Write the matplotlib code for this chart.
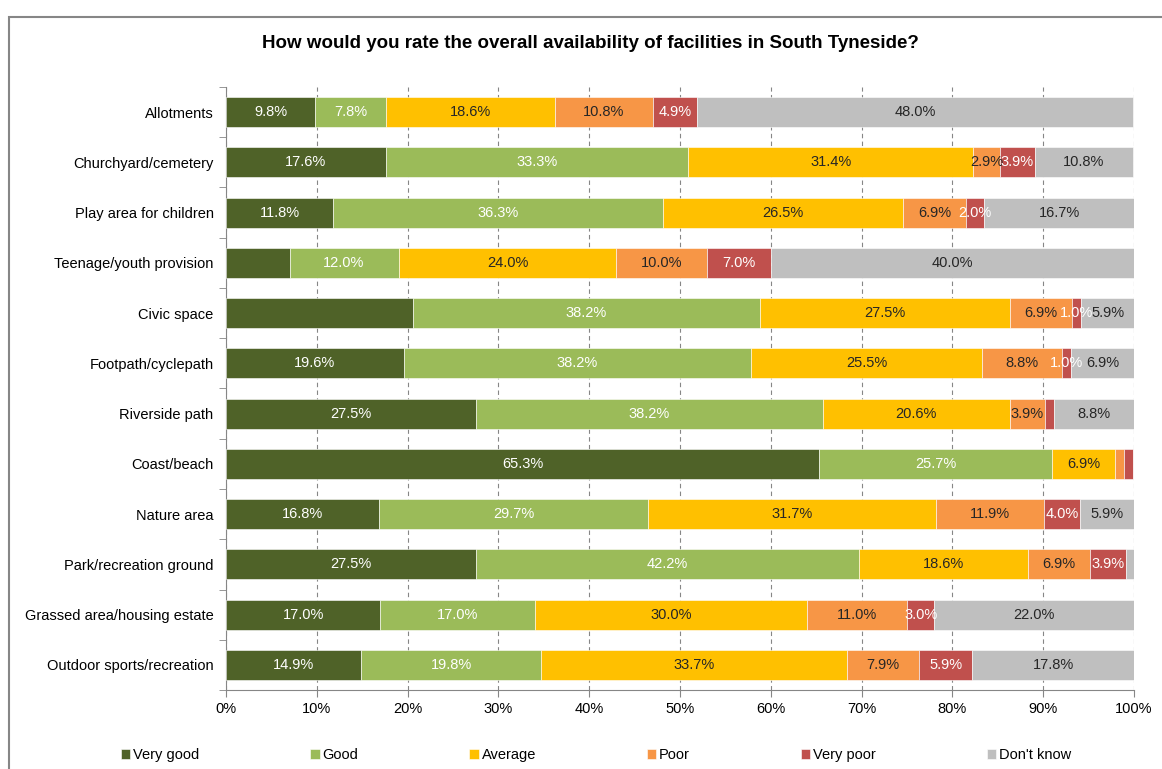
import numpy as np
import matplotlib
matplotlib.use('Agg')
import matplotlib.pyplot as plt
from matplotlib.patches import Rectangle

plt.rcParams['font.family'] = ['Liberation Sans', 'DejaVu Sans']

categories = ['Allotments', 'Churchyard/cemetery', 'Play area for children',
              'Teenage/youth provision', 'Civic space', 'Footpath/cyclepath',
              'Riverside path', 'Coast/beach', 'Nature area',
              'Park/recreation ground', 'Grassed area/housing estate',
              'Outdoor sports/recreation']

very_good = [9.8, 17.6, 11.8, 7.0, 20.6, 19.6, 27.5, 65.3, 16.8, 27.5, 17.0, 14.9]
good = [7.8, 33.3, 36.3, 12.0, 38.2, 38.2, 38.2, 25.7, 29.7, 42.2, 17.0, 19.8]
average = [18.6, 31.4, 26.5, 24.0, 27.5, 25.5, 20.6, 6.9, 31.7, 18.6, 30.0, 33.7]
poor = [10.8, 2.9, 6.9, 10.0, 6.9, 8.8, 3.9, 1.0, 11.9, 6.9, 11.0, 7.9]
very_poor = [4.9, 3.9, 2.0, 7.0, 1.0, 1.0, 1.0, 1.0, 4.0, 3.9, 3.0, 5.9]
dont_know = [48.0, 10.8, 16.7, 40.0, 5.9, 6.9, 8.8, 0.0, 5.9, 1.0, 22.0, 17.8]

series_names = ['Very good', 'Good', 'Average', 'Poor', 'Very poor', "Don't know"]
colors = ['#4F6228', '#9BBB59', '#FFC000', '#F79646', '#C0504D', '#BFBFBF']
text_colors = ['white', 'white', '#262626', '#262626', 'white', '#262626']

# segments that have no data label in the original (category, series index)
unlabelled = [('Teenage/youth provision', 0), ('Civic space', 0),
              ('Riverside path', 4), ('Coast/beach', 3), ('Coast/beach', 4),
              ('Park/recreation ground', 5)]

data = [very_good, good, average, poor, very_poor, dont_know]

fig = plt.figure(figsize=(11.62, 7.69), dpi=100)
ax = fig.add_axes([0.1945, 0.1027, 0.7814, 0.7842])

y = np.arange(len(categories))
left = np.zeros(len(categories))
for i, vals in enumerate(data):
    vals = np.array(vals)
    ax.barh(y, vals, left=left, height=0.6, color=colors[i],
            edgecolor='white', linewidth=0.4, label=series_names[i], zorder=3)
    for j, v in enumerate(vals):
        if v <= 0 or (categories[j], i) in unlabelled:
            continue
        ax.text(left[j] + v / 2, y[j], f'{v:.1f}%', ha='center', va='center',
                color=text_colors[i], fontsize=10.5, zorder=4)
    left += vals

ax.set_xlim(0, 100)
ax.set_ylim(len(categories) - 0.5, -0.5)
ax.set_xticks(np.arange(0, 101, 10))
ax.set_xticklabels([f'{t}%' for t in range(0, 101, 10)], fontsize=10.5)
ax.set_yticks(y)
ax.set_yticklabels(categories, fontsize=10.5)
ax.tick_params(axis='y', length=0, pad=9)
ax.set_yticks(np.arange(-0.5, len(categories)), minor=True)
ax.tick_params(axis='y', which='minor', length=5, color='#868686')
ax.tick_params(axis='x', length=5, color='#868686')
ax.grid(axis='x', linestyle=(0, (4, 3)), color='#868686', linewidth=0.8, zorder=0)
for s in ['top', 'right']:
    ax.spines[s].set_visible(False)
for s in ['left', 'bottom']:
    ax.spines[s].set_color('#868686')

fig.text(590 / 1162, 1 - 44 / 769,
         'How would you rate the overall availability of facilities in South Tyneside?',
         ha='center', va='center', fontsize=13.5, fontweight='bold')

fig.legend(loc='center', bbox_to_anchor=(0.513, 0.018), ncol=6, frameon=False,
           fontsize=10.5, handlelength=0.65, handleheight=0.65, handletextpad=0.2,
           columnspacing=7.6)

fig.patches.append(Rectangle((9 / 1162, -0.1), 1.2, 1.1 - 17 / 769, transform=fig.transFigure,
                             fill=False, edgecolor='#868686', linewidth=1.5))

fig.savefig('out.png', dpi=100)
